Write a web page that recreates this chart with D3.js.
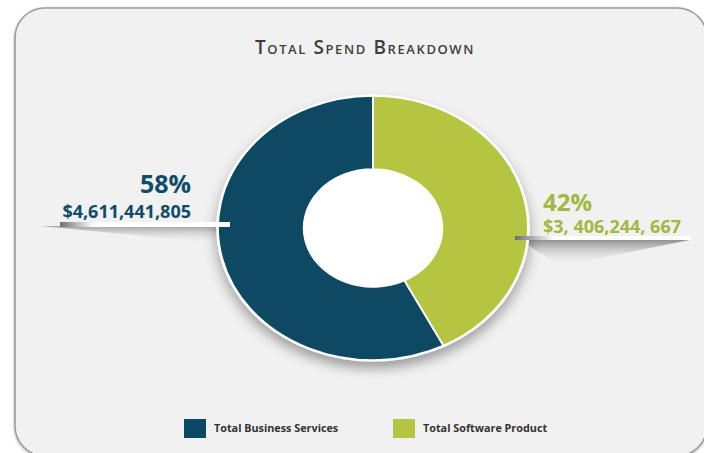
<!DOCTYPE html>
<html>
<head>
<meta charset="utf-8">
<script src="https://cdn.jsdelivr.net/npm/d3@7"></script>
<style>
  html, body { margin: 0; padding: 0; background: #ffffff; }
  svg { display: block; }
</style>
</head>
<body>
<script>
// Spend categories and totals
const categories = ["Total Business Services", "Total Software Product"];
const amounts = [4611441805, 3406244667];
const amountLabels = ["$4,611,441,805", "$3, 406,244, 667"];
const colors = ["#0a4964", "#b5c543"];
const labelColors = ["#0f4c68", "#9fba3e"];
const title = "Total Spend Breakdown";

const W = 704, H = 453;
const svg = d3.select("body").append("svg").attr("width", W).attr("height", H);
const defs = svg.append("defs");

// soft drop shadow for the donut
const sh = defs.append("filter").attr("id", "donutShadow")
  .attr("x", "-20%").attr("y", "-20%").attr("width", "140%").attr("height", "150%");
sh.append("feGaussianBlur").attr("in", "SourceAlpha").attr("stdDeviation", 6).attr("result", "b");
sh.append("feOffset").attr("in", "b").attr("dy", 7).attr("result", "o");
sh.append("feComponentTransfer").attr("in", "o").attr("result", "t")
  .append("feFuncA").attr("type", "linear").attr("slope", 0.35);
const m = sh.append("feMerge");
m.append("feMergeNode").attr("in", "t");
m.append("feMergeNode").attr("in", "SourceGraphic");

// faint shadow around the card border
const cs = defs.append("filter").attr("id", "cardShadow")
  .attr("x", "-5%").attr("y", "-5%").attr("width", "110%").attr("height", "110%");
cs.append("feGaussianBlur").attr("in", "SourceAlpha").attr("stdDeviation", 1.5).attr("result", "b");
cs.append("feOffset").attr("in", "b").attr("dx", 0).attr("dy", 1).attr("result", "o");
cs.append("feComponentTransfer").attr("in", "o").attr("result", "t")
  .append("feFuncA").attr("type", "linear").attr("slope", 0.3);
const m2 = cs.append("feMerge");
m2.append("feMergeNode").attr("in", "t");
m2.append("feMergeNode").attr("in", "SourceGraphic");

// card
svg.append("rect")
  .attr("x", 15).attr("y", 8).attr("width", 692).attr("height", 448)
  .attr("rx", 30).attr("ry", 30)
  .attr("fill", "#f1f1f1").attr("stroke", "#9c9c9c").attr("stroke-width", 1.6)
  .attr("filter", "url(#cardShadow)");

// title
svg.append("text")
  .attr("x", 365).attr("y", 54)
  .attr("text-anchor", "middle")
  .attr("font-family", "'Open Sans', 'DejaVu Sans', sans-serif")
  .attr("font-size", 19)
  .attr("font-weight", 600)
  .attr("font-variant", "small-caps")
  .attr("letter-spacing", 1.6)
  .attr("fill", "#3e3e3e")
  .text(title);

// gradients for leader bars and their shadows
function linGrad(id, x1, y1, x2, y2, stops) {
  const g = defs.append("linearGradient").attr("id", id)
    .attr("x1", x1).attr("y1", y1).attr("x2", x2).attr("y2", y2);
  stops.forEach(s => g.append("stop").attr("offset", s[0]).attr("stop-color", s[1]).attr("stop-opacity", s[2]));
}
linGrad("barL", "0", "0", "1", "0", [[0, "#6e6e6e", 1], [0.12, "#c8c8c8", 1], [0.2, "#ffffff", 1], [1, "#ffffff", 1]]);
linGrad("barR", "0", "0", "1", "0", [[0, "#6e6e6e", 1], [0.14, "#c8c8c8", 1], [0.22, "#ffffff", 1], [1, "#ffffff", 1]]);
linGrad("wedgeL", "0", "0", "0", "1", [[0, "#8a8a8a", 0.75], [1, "#f1f1f1", 0]]);
linGrad("wedgeR", "0", "0", "0", "1", [[0, "#7a7a7a", 0.8], [1, "#f1f1f1", 0]]);

// leader shadows
svg.append("path")
  .attr("d", "M40,226 L228,226 L228,244 Z")
  .attr("fill", "url(#wedgeL)");
svg.append("path")
  .attr("d", "M520,240 L690,240 L560,266 Z")
  .attr("fill", "url(#wedgeR)");

// donut, drawn as a circle and stretched horizontally into an ellipse
const cx = 373, cy = 228;
const ry = 132, rx = 155;
const innerR = 59;
const total = d3.sum(amounts);
const start = 2 * Math.PI * amounts[1] / total;
const pie = d3.pie().sort(null).startAngle(start).endAngle(start + 2 * Math.PI);
const arcs = pie(amounts);
const arc = d3.arc().innerRadius(innerR).outerRadius(ry);

const donut = svg.append("g")
  .attr("transform", `translate(${cx},${cy}) scale(${rx / ry},1)`);
const shadowed = donut.append("g").attr("filter", "url(#donutShadow)");
shadowed.append("circle").attr("r", ry + 1.5).attr("fill", "#ffffff");
shadowed.selectAll("path.slice")
  .data(arcs)
  .join("path")
  .attr("class", "slice")
  .attr("d", arc)
  .attr("fill", (d, i) => colors[i])
  .attr("stroke", "#ffffff")
  .attr("stroke-width", 1.6);
donut.append("circle").attr("r", innerR).attr("fill", "#ffffff");

// leader bars
svg.append("rect").attr("x", 60).attr("y", 222).attr("width", 170).attr("height", 5)
  .attr("fill", "url(#barL)");
svg.append("rect").attr("x", 515).attr("y", 236).attr("width", 176).attr("height", 4)
  .attr("fill", "url(#barR)");

// value labels
const pct = amounts.map(v => Math.round(100 * v / total) + "%");
const font = "'Open Sans', 'DejaVu Sans', sans-serif";
svg.append("text").attr("x", 191).attr("y", 193).attr("text-anchor", "end")
  .attr("font-family", font).attr("font-weight", "bold").attr("font-size", 25)
  .attr("fill", labelColors[0]).text(pct[0]);
svg.append("text").attr("x", 191).attr("y", 218).attr("text-anchor", "end")
  .attr("font-family", font).attr("font-weight", "bold").attr("font-size", 18)
  .attr("fill", labelColors[0]).text(amountLabels[0]);
svg.append("text").attr("x", 543).attr("y", 211).attr("text-anchor", "start")
  .attr("font-family", font).attr("font-weight", "bold").attr("font-size", 24)
  .attr("fill", labelColors[1]).text(pct[1]);
svg.append("text").attr("x", 543).attr("y", 233).attr("text-anchor", "start")
  .attr("font-family", font).attr("font-weight", "bold").attr("font-size", 18)
  .attr("fill", labelColors[1]).text(amountLabels[1]);

// legend
const legendX = [184, 393];
const lg = svg.append("g");
categories.forEach((c, i) => {
  lg.append("rect").attr("x", legendX[i]).attr("y", 419).attr("width", 22).attr("height", 19)
    .attr("fill", colors[i]);
  lg.append("text").attr("x", legendX[i] + 30).attr("y", 432)
    .attr("font-family", font).attr("font-weight", "bold").attr("font-size", 10.8)
    .attr("fill", "#333333").text(c);
});
</script>
</body>
</html>
